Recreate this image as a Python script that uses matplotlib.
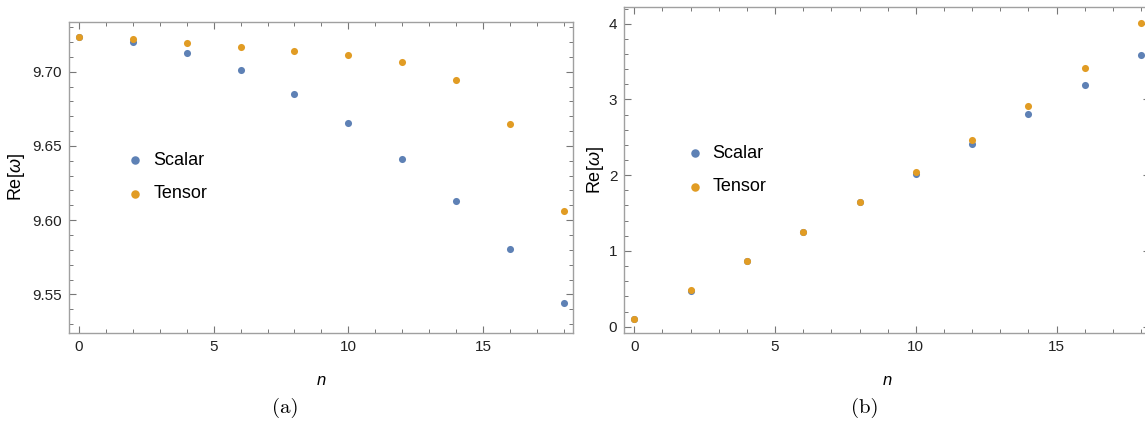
import matplotlib
matplotlib.use("Agg")
import matplotlib.pyplot as plt
from matplotlib.ticker import MultipleLocator, FormatStrFormatter

plt.rcParams['font.family'] = ['Liberation Sans', 'DejaVu Sans']
plt.rcParams['mathtext.fontset'] = 'custom'
plt.rcParams['mathtext.rm'] = 'Liberation Sans'
plt.rcParams['mathtext.it'] = 'Liberation Sans:italic'
plt.rcParams['axes.unicode_minus'] = False

n = [0, 2, 4, 6, 8, 10, 12, 14, 16, 18]
scalar_a = [9.7234, 9.7200, 9.7128, 9.7011, 9.6852, 9.6652, 9.6410, 9.6127, 9.5803, 9.5441]
tensor_a = [9.7234, 9.7220, 9.7195, 9.7166, 9.7140, 9.7115, 9.7065, 9.6942, 9.6647, 9.6059]
scalar_b = [0.10, 0.478, 0.866, 1.252, 1.640, 2.020, 2.413, 2.805, 3.197, 3.589]
tensor_b = [0.10, 0.485, 0.872, 1.255, 1.645, 2.044, 2.466, 2.915, 3.417, 4.009]
labels = ["Scalar", "Tensor"]
captions = ["(a)", "(b)"]

BLUE = "#5E81B5"
ORANGE = "#E19C24"
FRAME = "#a0a0a0"

W, H = 1145, 421
fig = plt.figure(figsize=(W / 100, H / 100), dpi=100)

def px_axes(l, r, t, b):
    return fig.add_axes([l / W, 1 - b / H, (r - l) / W, (b - t) / H])

ax1 = px_axes(69, 573, 22, 333)
ax2 = px_axes(624.3, 1149.5, 7, 332.7)

def style(ax, ymaj, ymin):
    for s in ax.spines.values():
        s.set_color(FRAME)
        s.set_linewidth(1.0)
    ax.xaxis.set_major_locator(MultipleLocator(5))
    ax.xaxis.set_minor_locator(MultipleLocator(1))
    ax.yaxis.set_major_locator(MultipleLocator(ymaj))
    ax.yaxis.set_minor_locator(MultipleLocator(ymin))
    ax.tick_params(which='both', direction='in', top=True, right=True,
                   color='#777777', labelsize=11, labelcolor='#222222')
    ax.tick_params(which='major', length=5, width=0.8, pad=5)
    ax.tick_params(which='minor', length=3, width=0.7)
    ax.set_xlabel("n", fontsize=12, fontstyle='italic', labelpad=14)

def draw(ax, s, t):
    ax.scatter(n, s, s=26, color=BLUE, label=labels[0], zorder=3, linewidths=0)
    ax.scatter(n, t, s=26, color=ORANGE, label=labels[1], zorder=4, linewidths=0)

YLAB = "Re[$\\omega$]"

draw(ax1, scalar_a, tensor_a)
ax1.set_xlim(-0.37, 18.34)
ax1.set_ylim(9.524, 9.7335)
style(ax1, 0.05, 0.01)
ax1.yaxis.set_major_formatter(FormatStrFormatter('%.2f'))
ax1.set_ylabel(YLAB, fontsize=13, labelpad=4)

draw(ax2, scalar_b, tensor_b)
ax2.set_xlim(-0.355, 18.3)
ax2.set_ylim(-0.079, 4.22)
style(ax2, 1, 0.2)
ax2.set_ylabel(YLAB, fontsize=13, labelpad=2)

for ax, anchor in ((ax1, (0.099, 0.6125)), (ax2, (0.103, 0.605))):
    ax.legend(loc='upper left', bbox_to_anchor=anchor, frameon=False,
              fontsize=13, handlelength=0.8, handletextpad=0.6,
              labelspacing=0.93, borderpad=0, scatterpoints=1,
              markerscale=1.2)

fig.text(285 / W, 1 - 408 / H, captions[0], family='cmr10', fontsize=15, ha='center', va='center')
fig.text(865 / W, 1 - 408 / H, captions[1], family='cmr10', fontsize=15, ha='center', va='center')

fig.savefig("out.png", dpi=100)
